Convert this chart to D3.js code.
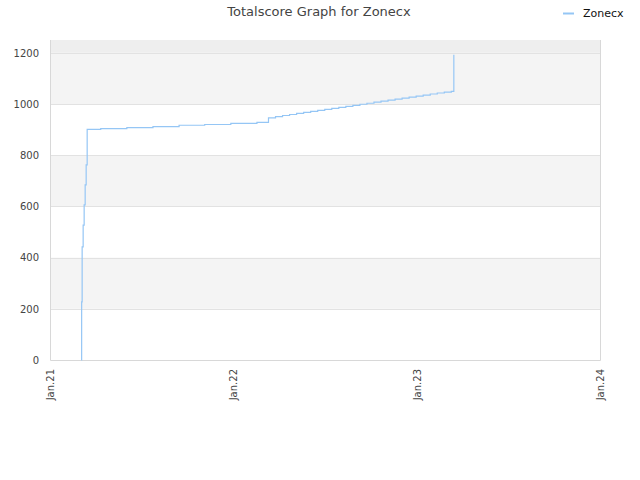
<!DOCTYPE html>
<html>
<head>
<meta charset="utf-8">
<script src="https://cdn.jsdelivr.net/npm/d3@7"></script>
<style>
  body { margin: 0; background: #fff; }
  svg { display: block; font-family: "DejaVu Sans", Verdana, sans-serif; }
</style>
</head>
<body>
<svg id="chart" width="640" height="480"></svg>
<script>
// ---- data ----
const seriesName = "Zonecx";
const chartTitle = "Totalscore Graph for Zonecx";
const dates = [
  "2021-03-04", "2021-03-05", "2021-03-06", "2021-03-08", "2021-03-10", "2021-03-12", "2021-03-14", "2021-03-16",
  "2021-04-12", "2021-06-03", "2021-07-25", "2021-09-15", "2021-11-05", "2021-12-27", "2022-02-17",
  "2022-03-12", "2022-03-26", "2022-04-09", "2022-04-23", "2022-05-07", "2022-05-21", "2022-06-04",
  "2022-06-18", "2022-07-02", "2022-07-16", "2022-07-30", "2022-08-13", "2022-08-27", "2022-09-10",
  "2022-09-24", "2022-10-08", "2022-10-22", "2022-11-05", "2022-11-19", "2022-12-03", "2022-12-17",
  "2022-12-31", "2023-01-14", "2023-01-28", "2023-02-11", "2023-02-25", "2023-03-11", "2023-03-16"
];
const scores = [
  0, 227, 442, 527, 606, 684, 762, 901,
  904, 908, 912, 917, 920, 924, 928,
  946, 951, 955, 959, 963, 967, 971,
  975, 979, 983, 987, 991, 995, 999,
  1003, 1007, 1011, 1015, 1019, 1023, 1027,
  1031, 1035, 1039, 1043, 1046, 1049, 1192
];
const yTicks = [0, 200, 400, 600, 800, 1000, 1200];
const xTickDates = ["2021-01-01", "2022-01-01", "2023-01-01", "2024-01-01"];
const xTickLabels = ["Jan.21", "Jan.22", "Jan.23", "Jan.24"];

// ---- layout ----
const svg = d3.select("#chart");
const mLeft = 50, mRight = 600, mTop = 40, mBottom = 360;
const parse = d3.timeParse("%Y-%m-%d");
const data = dates.map((d, i) => ({ date: parse(d), value: scores[i] }));

const x = d3.scaleTime()
  .domain([parse(xTickDates[0]), parse(xTickDates[xTickDates.length - 1])])
  .range([mLeft, mRight]);
const y = d3.scaleLinear().domain([0, 1250]).range([mBottom, mTop]);

// bands
const bandEdges = [0, 200, 400, 600, 800, 1000, 1200, 1250];
for (let i = 0; i < bandEdges.length - 1; i++) {
  let fill = null;
  if (i === 6) fill = "#eeeeee";
  else if (i % 2 === 1) fill = "#f4f4f4";
  if (fill) {
    svg.append("rect")
      .attr("x", mLeft).attr("width", mRight - mLeft)
      .attr("y", y(bandEdges[i + 1])).attr("height", y(bandEdges[i]) - y(bandEdges[i + 1]))
      .attr("fill", fill);
  }
}

// grid lines
svg.append("g").selectAll("line").data(yTicks.slice(1)).join("line")
  .attr("x1", mLeft).attr("x2", mRight)
  .attr("y1", d => Math.round(y(d)) + 0.5).attr("y2", d => Math.round(y(d)) + 0.5)
  .attr("stroke", "#e2e2e2").attr("stroke-width", 1);

// border
svg.append("path")
  .attr("d", `M${mLeft + 0.5},${mTop}V${mBottom + 0.5}H${mRight + 0.5}V${mTop}`)
  .attr("fill", "none").attr("stroke", "#d8d8d8");

// y axis labels
const yAxis = d3.axisLeft(y).tickValues(yTicks).tickFormat(d3.format("d")).tickSize(0).tickPadding(11);
const gy = svg.append("g").attr("transform", `translate(${mLeft},0)`).call(yAxis);
gy.select(".domain").remove();
gy.selectAll("text").attr("fill", "#444").style("font-size", "10px").style("font-family", "DejaVu Sans, sans-serif");

// x axis labels
const xAxis = d3.axisBottom(x)
  .tickValues(xTickDates.map(parse))
  .tickFormat((d, i) => xTickLabels[i])
  .tickSize(0);
const gx = svg.append("g").attr("transform", `translate(0,${mBottom})`).call(xAxis);
gx.select(".domain").remove();
gx.selectAll("text")
  .attr("transform", "rotate(-90)")
  .attr("x", -9).attr("y", 0).attr("dy", "0.35em")
  .attr("text-anchor", "end")
  .attr("fill", "#444").style("font-size", "10px").style("font-family", "DejaVu Sans, sans-serif");

// line
const line = d3.line().x(d => x(d.date)).y(d => y(d.value)).curve(d3.curveStepAfter);
svg.append("path").datum(data)
  .attr("d", line)
  .attr("fill", "none").attr("stroke", "#95c6f5").attr("stroke-width", 1.2);

// title
svg.append("text").attr("x", 319).attr("y", 16).attr("text-anchor", "middle")
  .attr("fill", "#444").style("font-size", "13px").text(chartTitle);

// legend
svg.append("line").attr("x1", 563).attr("x2", 574).attr("y1", 13.5).attr("y2", 13.5)
  .attr("stroke", "#95c6f5").attr("stroke-width", 2);
svg.append("text").attr("x", 583).attr("y", 17).attr("fill", "#111")
  .style("font-size", "11px").text(seriesName);
</script>
</body>
</html>
